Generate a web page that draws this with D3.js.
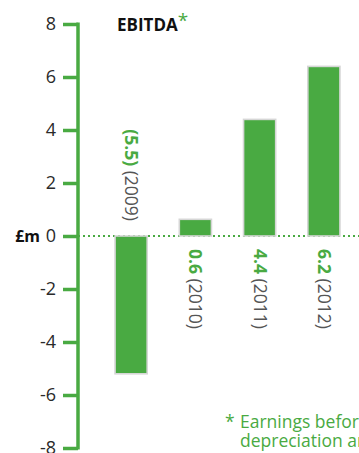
<!DOCTYPE html>
<html><head><meta charset="utf-8">
<script src="https://cdn.jsdelivr.net/npm/d3@7"></script>
<style>
html,body{margin:0;padding:0;background:#fff;}
svg{display:block;font-family:"Open Sans",sans-serif;}
</style></head>
<body>
<svg id="chart" width="359" height="453"></svg>
<script>
const years = ["2009","2010","2011","2012"];
const barValues = [-5.2, 0.63, 4.4, 6.4];
const valueLabels = ["(5.5)", "0.6", "4.4", "6.2"];
const yTicks = [8, 6, 4, 2, 0, -2, -4, -6, -8];
const title = "EBITDA";
const footnote = ["Earnings before interest, tax,", "depreciation and amortisation"];

const green = "#49aa42";
const svg = d3.select("#chart");

const y = d3.scaleLinear().domain([-8, 8]).range([448, 24]);
const x = d3.scaleBand().domain(years).range([99, 356]).paddingInner(0.5).paddingOuter(0.25);

const axisX = 78;

// zero dotted line
svg.append("line")
  .attr("x1", axisX).attr("x2", 359)
  .attr("y1", y(0)).attr("y2", y(0))
  .attr("stroke", green).attr("stroke-width", 2)
  .attr("stroke-dasharray", "2,3");

// bars
svg.selectAll("rect.bar").data(years).join("rect")
  .attr("class", "bar")
  .attr("x", d => x(d))
  .attr("width", x.bandwidth())
  .attr("y", (d, i) => Math.min(y(barValues[i]), y(0)))
  .attr("height", (d, i) => Math.abs(y(barValues[i]) - y(0)))
  .attr("fill", green)
  .attr("stroke", "#d6d6d6")
  .attr("stroke-width", 1.6);

// axis
const axis = d3.axisLeft(y).tickValues(yTicks).tickSize(15).tickPadding(7)
  .tickFormat(d => String(d));
const g = svg.append("g").attr("transform", `translate(${axisX},0)`).call(axis);
g.select(".domain").attr("stroke", green).attr("stroke-width", 3.5)
  .attr("d", `M0,${y(8) - 1.5}V${y(-8) + 1.5}`);
g.selectAll(".tick line").attr("stroke", green).attr("stroke-width", 3.5);
g.selectAll(".tick text").attr("fill", "#2a2a2a").attr("font-size", 18)
  .attr("font-family", "Open Sans, sans-serif").attr("font-weight", 400);

// £m label
svg.append("text")
  .attr("x", 40).attr("y", y(0)).attr("dy", "0.36em")
  .attr("text-anchor", "end")
  .attr("font-size", 16).attr("font-weight", 700).attr("fill", "#111")
  .text("£m");

// title
const t = svg.append("text").attr("x", 117).attr("y", 31)
  .attr("font-size", 17).attr("font-weight", 700).attr("fill", "#111");
t.append("tspan").text(title);
t.append("tspan").attr("fill", green).attr("font-weight", 400)
  .attr("font-size", 19).attr("dy", -4).text("*");

// rotated value labels
years.forEach((yr, i) => {
  const cx = x(yr) + x.bandwidth() / 2;
  const neg = barValues[i] < 0;
  const startY = neg ? 221 : 249;
  const txt = svg.append("text")
    .attr("transform", `translate(${cx},${startY}) rotate(90)`)
    .attr("dy", "0.35em")
    .attr("text-anchor", neg ? "end" : "start")
    .attr("font-size", 17.5);
  txt.append("tspan").attr("font-weight", 700).attr("fill", green).text(valueLabels[i]);
  txt.append("tspan").attr("fill", "#555").attr("font-weight", 400).text(" (" + yr + ")");
});

// footnote
svg.append("text").attr("x", 225).attr("y", 428)
  .attr("font-size", 17.5).attr("fill", green).text("*");
footnote.forEach((line, i) => {
  svg.append("text").attr("x", 240).attr("y", 428 + i * 19)
    .attr("font-size", 17.5).attr("fill", green).text(line);
});
</script>
</body></html>
